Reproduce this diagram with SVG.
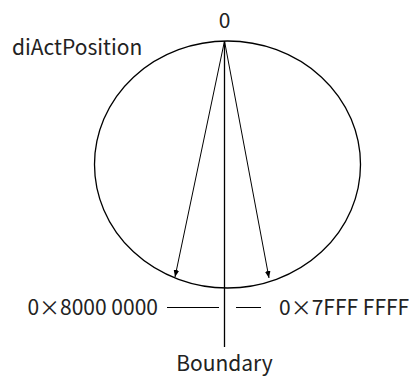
<svg xmlns="http://www.w3.org/2000/svg" width="409" height="377" viewBox="0 0 409 377">
<style>
text{font-family:"Noto Sans CJK JP","Noto Sans",sans-serif;font-size:21px;fill:#222}
.s{stroke:#000;stroke-width:1.3;fill:none}
.t{stroke:#000;stroke-width:1;fill:none}
</style>
<defs>
<marker id="ah" viewBox="0 0 10 10" refX="10" refY="5" markerWidth="7" markerHeight="10" markerUnits="userSpaceOnUse" orient="auto"><path d="M0,1 L10,5 L0,9 Z" fill="#000"/></marker>
</defs>
<rect width="409" height="377" fill="#fff"/>
<g id="circle"><ellipse class="s" cx="227.5" cy="164.5" rx="133" ry="123.5"/></g>
<g id="connectors">
<line class="s" x1="224.5" y1="41" x2="224.5" y2="347"/>
<line class="t" x1="224.5" y1="41" x2="175" y2="277" marker-end="url(#ah)"/>
<line class="t" x1="224.5" y1="41" x2="269" y2="278" marker-end="url(#ah)"/>
<line class="t" x1="167" y1="307.5" x2="219" y2="307.5"/>
<line class="t" x1="236" y1="307.5" x2="261" y2="307.5"/>
</g>
<g id="labels">
<text x="224.5" y="27.5" text-anchor="middle">0</text>
<text x="12" y="55">diActPosition</text>
<text x="158" y="315" text-anchor="end">0×8000 0000</text>
<text x="279" y="315">0×7FFF FFFF</text>
<text x="224.5" y="370.5" text-anchor="middle">Boundary</text>
</g>
</svg>
